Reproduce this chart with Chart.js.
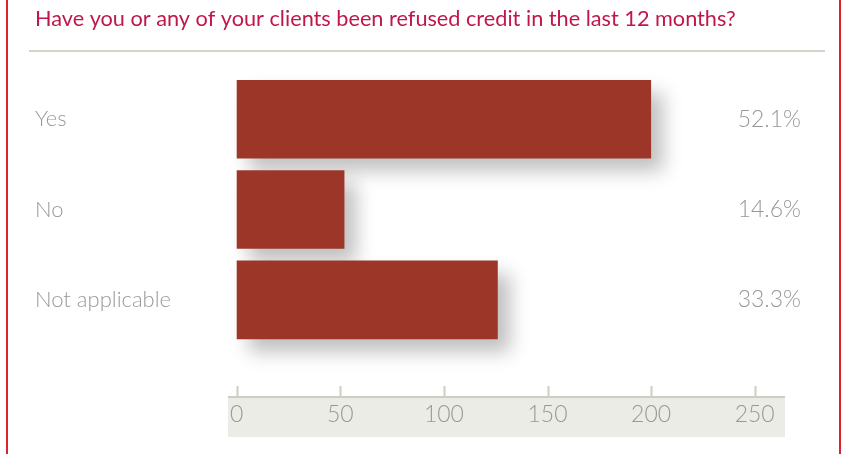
<!DOCTYPE html>
<html>
<head>
<meta charset="utf-8">
<script src="https://cdn.jsdelivr.net/npm/chart.js@4"></script>
<style>
  html, body { margin: 0; padding: 0; background: #fff; }
  #wrap { width: 846px; height: 454px; }
</style>
</head>
<body>
<div id="wrap"><canvas id="chart"></canvas></div>
<script>
const answers = ['Yes', 'No', 'Not applicable'];
const responses = [200, 52, 126];
const shares = ['52.1%', '14.6%', '33.3%'];
const xTicks = [0, 50, 100, 150, 200, 250];

const textGrey = '#9c9797';

// frame, title rule and grey band behind the x axis
const decor = {
  id: 'decor',
  beforeDraw(chart) {
    const ctx = chart.ctx;
    const x = chart.scales.x;
    ctx.save();
    ctx.fillStyle = '#ecece6';
    ctx.fillRect(228, 396, 557, 41);
    ctx.strokeStyle = '#cdcdc2';
    ctx.lineWidth = 2;
    ctx.beginPath();
    ctx.moveTo(228, 397);
    ctx.lineTo(785, 397);
    x.ticks.forEach(t => {
      const px = Math.round(x.getPixelForValue(t.value)) + 0.5;
      ctx.moveTo(px, 386);
      ctx.lineTo(px, 397);
    });
    ctx.stroke();
    ctx.strokeStyle = '#d3d3c9';
    ctx.beginPath();
    ctx.moveTo(29, 51);
    ctx.lineTo(825, 51);
    ctx.stroke();
    ctx.restore();
  },
  beforeDatasetsDraw(chart) {
    const ctx = chart.ctx;
    ctx.save();
    ctx.shadowColor = 'rgba(0,0,0,0.25)';
    ctx.shadowBlur = 18;
    ctx.shadowOffsetX = 12;
    ctx.shadowOffsetY = 13;
  },
  afterDatasetsDraw(chart) {
    chart.ctx.restore();
  },
  afterDraw(chart) {
    const ctx = chart.ctx;
    ctx.save();
    ctx.strokeStyle = '#d9262e';
    ctx.lineWidth = 2;
    ctx.beginPath();
    ctx.moveTo(7, 0);
    ctx.lineTo(7, 454);
    ctx.moveTo(840, 0);
    ctx.lineTo(840, 454);
    ctx.stroke();
    ctx.restore();
  }
};

new Chart(document.getElementById('chart'), {
  type: 'bar',
  data: {
    labels: answers,
    datasets: [{
      data: responses,
      backgroundColor: '#9c3629',
      borderWidth: 0,
      categoryPercentage: 1,
      barPercentage: 0.87,
      clip: false,
      yAxisID: 'y'
    }]
  },
  options: {
    indexAxis: 'y',
    responsive: true,
    maintainAspectRatio: false,
    animation: false,
    layout: { padding: { left: 35, right: 45, top: 0, bottom: 0 } },
    plugins: {
      legend: { display: false },
      tooltip: { enabled: false },
      title: {
        display: true,
        text: 'Have you or any of your clients been refused credit in the last 12 months?',
        align: 'start',
        color: '#c0174a',
        font: { family: 'Lato', size: 21.7, weight: '400', lineHeight: 1.2 },
        padding: { top: 6, bottom: 42 }
      }
    },
    scales: {
      x: {
        min: 0,
        max: 250,
        afterBuildTicks(scale) {
          scale.ticks = xTicks.map(v => ({ value: v }));
        },
        afterFit(scale) { scale.height = 109; },
        grid: { display: false, drawTicks: false },
        border: { display: false },
        ticks: {
          padding: 56,
          color: textGrey,
          font: { family: 'Lato', size: 23, weight: '300' }
        }
      },
      y: {
        afterFit(scale) { scale.width = 201.7; },
        grid: { display: false, drawTicks: false },
        border: { display: false },
        ticks: {
          crossAlign: 'far',
          color: textGrey,
          font: { family: 'Lato', size: 22, weight: '300' }
        }
      },
      y2: {
        type: 'category',
        labels: shares,
        position: 'right',
        offset: true,
        afterFit(scale) { scale.width = 46.3; },
        grid: { display: false, drawTicks: false },
        border: { display: false },
        ticks: {
          mirror: true,
          crossAlign: 'near',
          padding: 46.3,
          color: textGrey,
          font: { family: 'Lato', size: 23, weight: '300' }
        }
      }
    }
  },
  plugins: [decor]
});
</script>
</body>
</html>
